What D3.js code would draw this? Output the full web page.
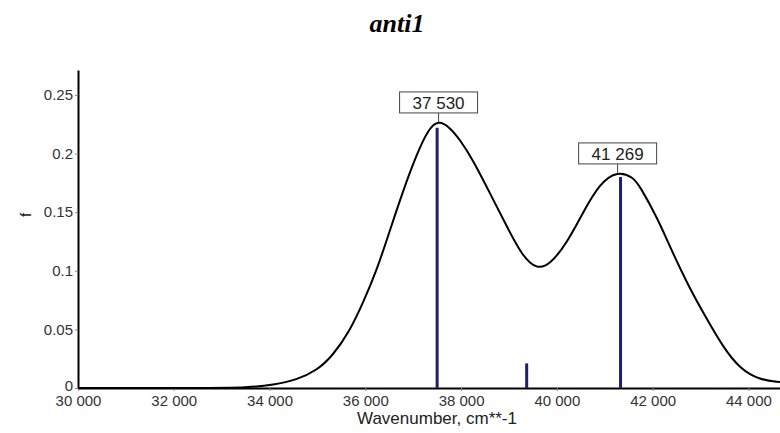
<!DOCTYPE html>
<html>
<head>
<meta charset="utf-8">
<script src="https://cdn.jsdelivr.net/npm/d3@7"></script>
<style>
  body { margin: 0; background: #fff; }
  text { font-family: Arial, "Liberation Sans", sans-serif; }
</style>
</head>
<body>
<div id="chart"></div>
<script>
// spectrum envelope
const wavenumbers = [30000, 32550, 33590, 34070, 34570, 34990, 35320, 35680, 35950, 36240, 36510, 36790,
  37080, 37310, 37530, 37770, 37980, 38250, 38600, 38960, 39290, 39580, 39850, 40210, 40540, 40900,
  41269, 41590, 41730, 42090, 42420, 42780, 43130, 43470, 43820, 44240, 44660];
const strengths = [0, 0, 0.0004, 0.0026, 0.0070, 0.0150, 0.0275, 0.0490, 0.0725, 0.1005, 0.1340, 0.1685,
  0.2000, 0.2205, 0.2287, 0.2220, 0.2116, 0.1945, 0.1664, 0.1374, 0.1118, 0.1015, 0.1049, 0.1237, 0.1493, 0.1749,
  0.1852, 0.1800, 0.1724, 0.1459, 0.1152, 0.0845, 0.0590, 0.0350, 0.0165, 0.0068, 0.0051];

// transitions (sticks)
const stickPos = [37500, 39370, 41330];
const stickF = [0.222, 0.021, 0.180];

// labelled maxima
const peakPos = [37530, 41269];
const peakF = [0.2287, 0.1852];

const xTicks = [30000, 32000, 34000, 36000, 38000, 40000, 42000, 44000];
const yTicks = [0, 0.05, 0.1, 0.15, 0.2, 0.25];

const W = 780, H = 433;
const svg = d3.select("#chart").append("svg")
    .attr("width", W)
    .attr("height", H);

const x = d3.scaleLinear().domain([30000, 44660]).range([78, 780]);
const y = d3.scaleLinear().domain([0, 0.2713]).range([388, 70]);

const fmt = d3.formatLocale({decimal: ".", thousands: " ", grouping: [3], currency: ["", ""]}).format(",");

// title
svg.append("text")
    .attr("x", 397)
    .attr("y", 32)
    .attr("text-anchor", "middle")
    .style("font-family", "'Liberation Serif', 'Times New Roman', serif")
    .style("font-weight", "bold")
    .style("font-style", "italic")
    .style("font-size", "26px")
    .text("anti1");

// x axis
const gx = svg.append("g")
    .attr("transform", "translate(0," + y(0) + ")")
    .call(d3.axisBottom(x).tickValues(xTicks).tickSize(3).tickSizeOuter(0).tickFormat(fmt));
gx.select(".domain").attr("stroke", "#000").attr("stroke-width", 2);
gx.selectAll(".tick line").attr("stroke", "#888");
gx.selectAll(".tick text")
    .attr("y", 7)
    .style("font-size", "15px")
    .style("fill", "#333");

// y axis
const gy = svg.append("g")
    .attr("transform", "translate(" + x(30000) + ",0)")
    .call(d3.axisLeft(y).tickValues(yTicks).tickSize(3).tickSizeOuter(0).tickFormat(d => d === 0 ? "0" : String(d)));
gy.select(".domain").attr("stroke", "#000").attr("stroke-width", 2);
gy.selectAll(".tick line").attr("stroke", "#888");
gy.selectAll(".tick text")
    .attr("x", -5)
    .style("font-size", "15px")
    .style("fill", "#333");
gy.selectAll(".tick text").filter(d => d === 0).attr("dy", "0.15em");

// axis labels
svg.append("text")
    .attr("x", 437)
    .attr("y", 424)
    .attr("text-anchor", "middle")
    .style("font-size", "17px")
    .style("fill", "#222")
    .text("Wavenumber, cm**-1");

svg.append("text")
    .attr("transform", "translate(31,215) rotate(-90)")
    .attr("text-anchor", "middle")
    .style("font-size", "15px")
    .style("fill", "#222")
    .text("f");

// sticks
svg.selectAll(".stick")
    .data(stickPos)
    .enter().append("line")
    .attr("class", "stick")
    .attr("x1", d => x(d))
    .attr("x2", d => x(d))
    .attr("y1", y(0))
    .attr("y2", (d, i) => y(stickF[i]))
    .attr("stroke", "#1e1e6e")
    .attr("stroke-width", 3);

// envelope
const line = d3.line()
    .x((d, i) => x(wavenumbers[i]))
    .y(d => y(d))
    .curve(d3.curveBasis);

svg.append("path")
    .datum(strengths)
    .attr("d", line)
    .attr("fill", "none")
    .attr("stroke", "#000")
    .attr("stroke-width", 2);

// peak labels
const boxW = 78, boxH = 21;
const lab = svg.selectAll(".peak")
    .data(peakPos)
    .enter().append("g")
    .attr("class", "peak");

lab.append("line")
    .attr("x1", d => x(d))
    .attr("x2", d => x(d))
    .attr("y1", (d, i) => y(peakF[i]) - 7)
    .attr("y2", (d, i) => y(peakF[i]) + 2)
    .attr("stroke", "#444")
    .attr("stroke-width", 1);

lab.append("rect")
    .attr("x", d => x(d) - boxW / 2)
    .attr("y", (d, i) => y(peakF[i]) - 7 - boxH)
    .attr("width", boxW)
    .attr("height", boxH)
    .attr("fill", "#fff")
    .attr("stroke", "#444")
    .attr("stroke-width", 1);

lab.append("text")
    .attr("x", d => x(d))
    .attr("y", (d, i) => y(peakF[i]) - 7 - boxH / 2)
    .attr("dy", "0.36em")
    .attr("text-anchor", "middle")
    .style("font-size", "17px")
    .style("fill", "#222")
    .text(d => fmt(d));
</script>
</body>
</html>
